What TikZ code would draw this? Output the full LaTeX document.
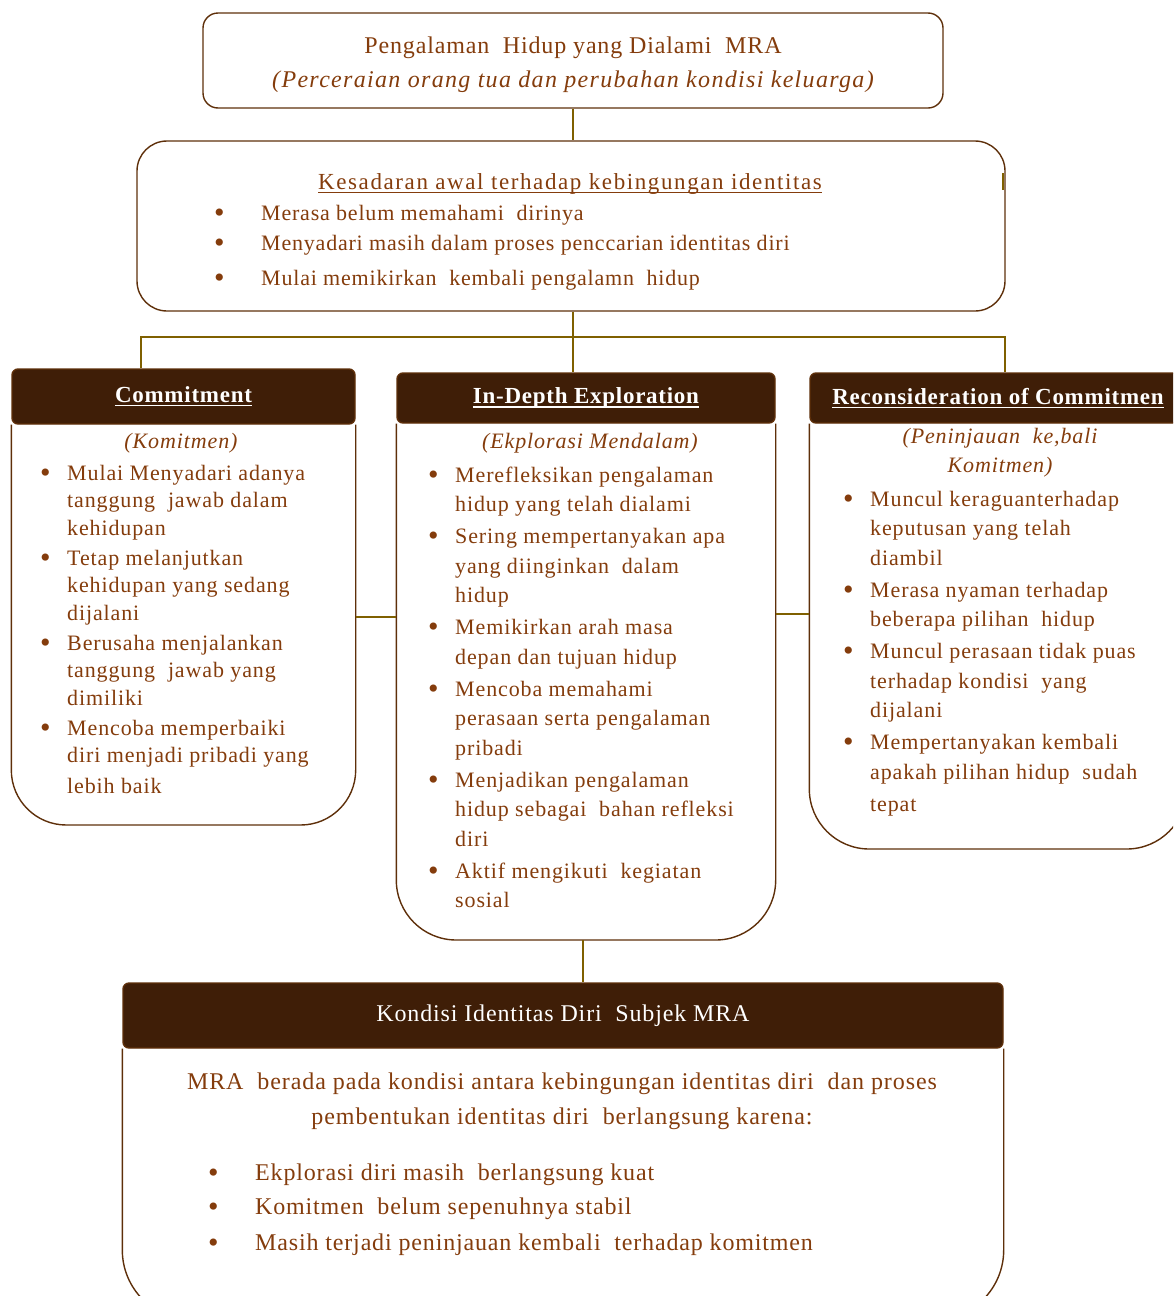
\documentclass[tikz,border=0pt]{standalone}
\usepackage{fontspec}
\setmainfont{Liberation Serif}
\definecolor{txt}{HTML}{843C0C}
\definecolor{edgecol}{HTML}{5E2F0A}
\definecolor{headfill}{HTML}{3F1E07}
\definecolor{linkcol}{HTML}{7F6000}
\newcommand{\undl}[1]{\setbox0=\hbox{#1}\rlap{\usebox0}\rule[-4pt]{\wd0}{1.2pt}}
\newcommand{\bdot}{\raisebox{-2pt}{\fontsize{30}{30}\selectfont\textbullet}}
\newcommand{\spaced}[3]{\fontsize{#1}{#2}\selectfont\addfontfeatures{LetterSpace=#3}}
\tikzset{
  box/.style={draw=edgecol, line width=1.4pt, rounded corners=15pt, inner sep=0pt},
  head/.style={draw=edgecol, fill=headfill, line width=1.4pt, rounded corners=6pt,
    text=white, inner sep=0pt, font=\bfseries\spaced{23}{28}{3.2}},
  bodyline/.style={draw=edgecol, line width=1.4pt},
  wire/.style={draw=linkcol, line width=1.4pt},
  txtnode/.style={text=txt, inner sep=0pt},
}

\begin{document}
\begin{tikzpicture}[x=1pt, y=-1pt]
    \useasboundingbox (0,0) rectangle (1173,1296);
    \clip (0,0) rectangle (1173,1296);

    % top
    \node[box, minimum width=740pt, minimum height=95pt] (origin) at (573,60.5) {};
    \node[txtnode, align=center, font=\spaced{24}{34}{3.5}] (originT) at (573,64.5)
      {Pengalaman\ \ Hidup yang Dialami\ \ MRA\\ {\itshape\addfontfeatures{LetterSpace=5.5}(Perceraian orang tua dan perubahan kondisi keluarga)}};

    \node[box, rounded corners=30pt, minimum width=868pt, minimum height=170pt] (aware) at (571,226) {};
    \node[txtnode, font=\spaced{23}{27}{7}] (awareT) at (570,183.5)
      {\undl{Kesadaran awal terhadap kebingungan identitas}};
    \node[txtnode, anchor=base west, font=\spaced{22}{30}{3.6}] (awareL) at (214,220)
      {\begin{tabular}[t]{@{}p{47pt}@{}l@{}}
        \bdot & Merasa belum memahami\ \ dirinya\\
        \bdot & Menyadari masih dalam proses penccarian identitas diri\\[5pt]
        \bdot & Mulai memikirkan\ \ kembali pengalamn\ \ hidup
      \end{tabular}};

    % three columns
    \node[head, minimum width=343pt, minimum height=55pt] (comH) at (183.5,396.5) {\undl{Commitment}};
    \node[head, minimum width=378pt, minimum height=50pt] (expH) at (586,398) {\undl{In-Depth Exploration}};
    \node[head, minimum width=376pt, minimum height=50pt] (recH) at (998,398) {\undl{Reconsideration of Commitmen}};

    \coordinate (comB) at (183,825);
    \coordinate (expB) at (586,940);
    \coordinate (recB) at (998,849);
    \draw[bodyline, rounded corners=55pt] (comH.south west) |- (comB) -| (comH.south east);
    \draw[bodyline, rounded corners=60pt] (expH.south west) |- (expB) -| (expH.south east);
    \draw[bodyline, rounded corners=60pt] (recH.south west) |- (recB) -| (recH.south east);

    \node[txtnode, font=\itshape\spaced{22}{28}{4}] (comS) at (181,443) {(Komitmen)};
    \node[txtnode, font=\itshape\spaced{22}{28}{4}] (expS) at (590,443) {(Ekplorasi Mendalam)};
    \node[txtnode, align=center, font=\itshape\spaced{22}{29}{4}] (recS) at (1000,452.5)
      {(Peninjauan\ \ ke,bali\\ Komitmen)};

    \node[txtnode, anchor=base west, font=\spaced{22}{27.5}{4}] (comL) at (40,480)
      {\begin{tabular}[t]{@{}p{27pt}@{}l@{}}
        \bdot & Mulai Menyadari adanya\\
              & tanggung\ \ jawab dalam\\
              & kehidupan\\[2.5pt]
        \bdot & Tetap melanjutkan\\
              & kehidupan yang sedang\\
              & dijalani\\[2.5pt]
        \bdot & Berusaha menjalankan\\
              & tanggung\ \ jawab yang\\
              & dimiliki\\[2.5pt]
        \bdot & Mencoba memperbaiki\\
              & diri menjadi pribadi yang\\[3pt]
              & lebih baik
      \end{tabular}};

    \node[txtnode, anchor=base west, font=\spaced{22}{29.5}{4}] (expL) at (428,482)
      {\begin{tabular}[t]{@{}p{27pt}@{}l@{}}
        \bdot & Merefleksikan pengalaman\\
              & hidup yang telah dialami\\[2.5pt]
        \bdot & Sering mempertanyakan apa\\
              & yang diinginkan\ \ dalam\\
              & hidup\\[2.5pt]
        \bdot & Memikirkan arah masa\\
              & depan dan tujuan hidup\\[2.5pt]
        \bdot & Mencoba memahami\\
              & perasaan serta pengalaman\\
              & pribadi\\[2.5pt]
        \bdot & Menjadikan pengalaman\\
              & hidup sebagai\ \ bahan refleksi\\
              & diri\\[2.5pt]
        \bdot & Aktif mengikuti\ \ kegiatan\\
              & sosial
      \end{tabular}};

    \node[txtnode, anchor=base west, font=\spaced{22}{29.5}{4}] (recL) at (843,506)
      {\begin{tabular}[t]{@{}p{27pt}@{}l@{}}
        \bdot & Muncul keraguanterhadap\\
              & keputusan yang telah\\
              & diambil\\[2.5pt]
        \bdot & Merasa nyaman terhadap\\
              & beberapa pilihan\ \ hidup\\[2.5pt]
        \bdot & Muncul perasaan tidak puas\\
              & terhadap kondisi\ \ yang\\
              & dijalani\\[2.5pt]
        \bdot & Mempertanyakan kembali\\
              & apakah pilihan hidup\ \ sudah\\[3pt]
              & tepat
      \end{tabular}};

    % bottom
    \node[head, font=\spaced{24}{30}{3.5}, minimum width=880pt, minimum height=65pt] (conH) at (563,1015.5)
      {Kondisi Identitas Diri\ \ Subjek MRA};
    \coordinate (conB) at (563,1320);
    \draw[bodyline, rounded corners=70pt] (conH.south west) |- (conB) -| (conH.south east);
    \node[txtnode, align=center, font=\spaced{24}{35}{3.9}] (conT) at (562,1101.5)
      {MRA\ \ berada pada kondisi antara kebingungan identitas diri\ \ dan proses\\ pembentukan identitas diri\ \ berlangsung karena:};
    \node[txtnode, anchor=base west, font=\spaced{24}{34.5}{3.5}] (conL) at (208,1180)
      {\begin{tabular}[t]{@{}p{47pt}@{}l@{}}
        \bdot & Ekplorasi diri masih\ \ berlangsung kuat\\
        \bdot & Komitmen\ \ belum sepenuhnya stabil\\[1.5pt]
        \bdot & Masih terjadi peninjauan kembali\ \ terhadap komitmen
      \end{tabular}};

    % connectors
    \coordinate (split) at (573,337);
    \coordinate (splitL) at (141,337);
    \coordinate (splitR) at (1005,337);
    \coordinate (midL) at (0,617);
    \coordinate (midR) at (0,614);
    \coordinate (downlink) at (583,0);
    \draw[wire] (origin.south) -- (origin.south |- aware.north);
    \draw[wire] (split |- aware.south) -- (split |- expH.north);
    \draw[wire] (splitL |- comH.north) -- (splitL) -- (splitR) -- (splitR |- recH.north);
    \draw[wire] (comH.south east |- midL) -- (expH.south west |- midL);
    \draw[wire] (expH.south east |- midR) -- (recH.south west |- midR);
    \draw[wire] (downlink |- expB) -- (downlink |- conH.north);
    \draw[wire, line width=2pt] (1003,173) -- (1003,190);
\end{tikzpicture}
\end{document}
